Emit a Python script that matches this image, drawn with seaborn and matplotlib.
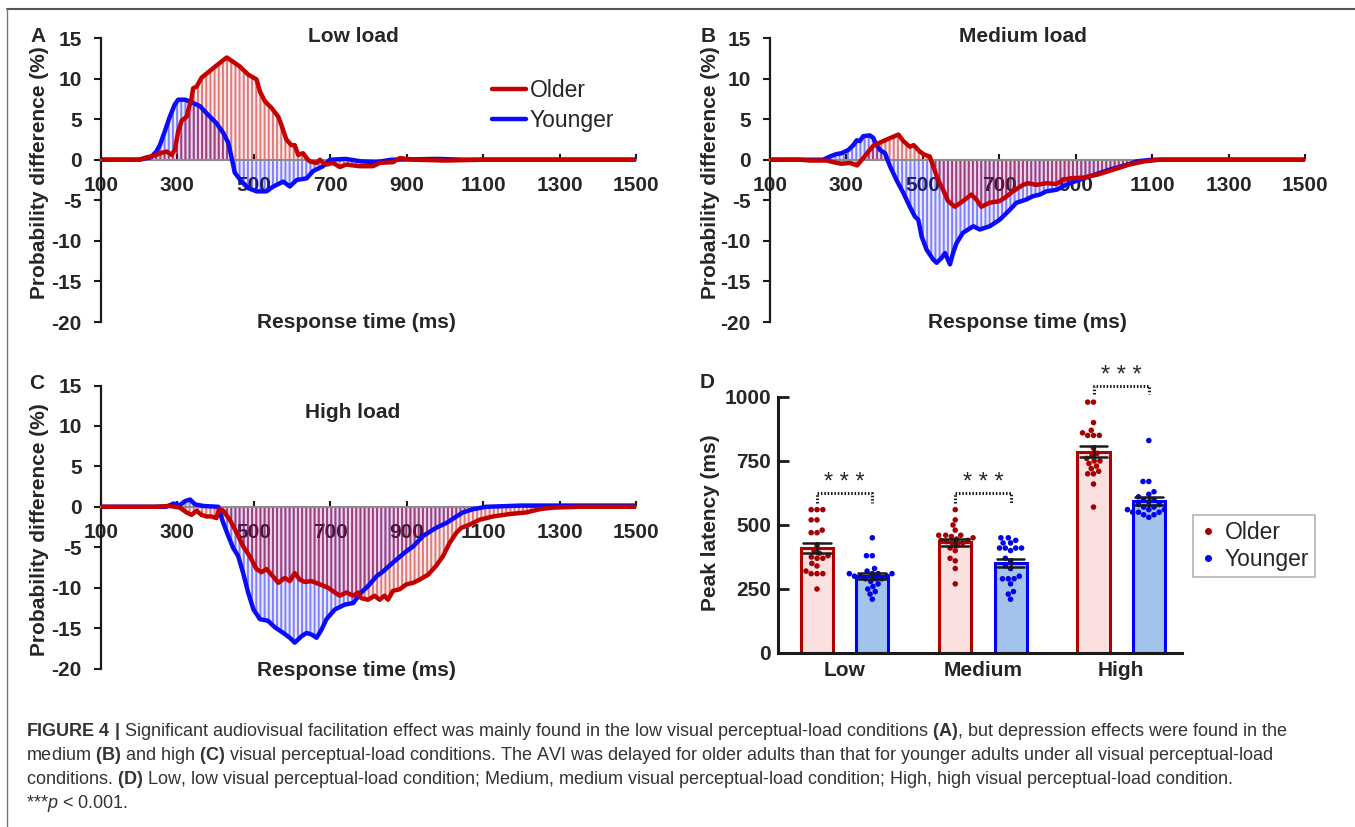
import numpy as np
import pandas as pd
import seaborn as sns
import matplotlib.pyplot as plt
import matplotlib.colors as mcolors
from matplotlib.lines import Line2D

# %%
# Digitised curves: response time (ms) vs probability difference (%)
low_old_t = [100, 200, 220, 240, 254, 272, 285, 293, 302, 311, 324, 337, 341, 350, 363, 394, 429, 463, 485, 507,
             516, 529, 546, 564, 572, 585, 598, 607, 616, 629, 638, 646, 664, 673, 681, 690, 707, 725, 742, 777,
             812, 829, 864, 882, 900, 920, 1000, 1100, 1500]
low_old_v = [0, 0, 0.3, 0.5, 0.8, 1.0, 0.6, 1.2, 3.5, 4.8, 5.3, 7.6, 8.8, 9.0, 10.1, 11.3, 12.6, 11.5, 10.5, 9.9,
             8.4, 7.2, 6.4, 5.3, 4.3, 2.5, 1.8, 1.8, 0.6, 0.8, 0.2, -0.2, -0.4, 0.0, -0.4, -0.6, -0.4, -0.9, -0.6, -0.8,
             -0.8, -0.4, -0.3, 0.2, 0.1, 0, -0.1, 0, 0]
low_young_t = [100, 200, 230, 245, 254, 267, 280, 293, 302, 320, 341, 359, 381, 402, 420, 433, 442, 450, 468, 485,
               507, 533, 551, 577, 594, 612, 638, 655, 681, 699, 740, 780, 820, 860, 980, 1050, 1500]
low_young_v = [0, 0, 0.3, 1.0, 1.8, 3.5, 5.3, 6.8, 7.4, 7.4, 7.0, 6.6, 5.5, 4.5, 3.3, 2.1, 0.2, -1.6, -2.7, -3.5,
               -3.9, -3.9, -3.3, -2.7, -3.3, -2.5, -2.3, -1.4, -0.8, 0.0, 0.1, -0.2, -0.3, 0.0, 0.1, 0, 0]

med_old_t = [100, 180, 205, 248, 266, 287, 309, 328, 344, 361, 370, 396, 436, 449, 466, 476, 492, 505, 518, 527,
             540, 553, 566, 584, 605, 627, 640, 653, 675, 701, 714, 736, 762, 775, 797, 823, 849, 867, 884, 920,
             960, 1000, 1040, 1080, 1120, 1500]
med_old_v = [0, 0, -0.1, -0.1, -0.3, -0.5, -0.4, -0.7, 0.2, 1.2, 1.7, 2.3, 3.1, 2.3, 1.6, 1.8, 1.0, 0.6, 0.4, -0.8,
             -2.5, -3.7, -5.1, -5.8, -5.1, -4.3, -4.9, -5.8, -5.3, -5.1, -4.7, -3.9, -3.1, -2.9, -3.1, -2.9, -3.0, -2.5, -2.3, -2.2,
             -1.8, -1.2, -0.6, -0.2, 0, 0]
med_young_t = [100, 239, 257, 274, 287, 305, 318, 327, 335, 344, 361, 370, 379, 388, 401, 414, 431, 449, 466, 479,
               488, 497, 510, 527, 536, 549, 558, 571, 579, 588, 605, 632, 649, 675, 701, 727, 745, 771, 788, 806,
               823, 850, 867, 884, 940, 990, 1036, 1060, 1100, 1500]
med_young_v = [0, 0, 0.4, 0.7, 0.8, 1.2, 1.8, 2.4, 2.3, 2.9, 3.0, 2.7, 1.8, 1.2, 0.8, -0.8, -2.5, -4.1, -5.8, -7.0,
               -7.4, -9.5, -11.1, -12.3, -12.7, -12.1, -11.5, -12.9, -11.5, -10.3, -9.0, -8.2, -8.6, -8.2, -7.4, -6.2, -5.3, -4.9, -4.5, -4.3,
               -3.9, -3.7, -3.3, -2.9, -2.0, -1.2, -0.6, -0.2, 0, 0]

high_old_t = [100, 240, 280, 306, 324, 337, 350, 363, 376, 389, 402, 409, 420, 437, 455, 472, 489, 507, 520, 533,
              550, 564, 581, 594, 607, 620, 633, 651, 673, 694, 712, 725, 742, 760, 773, 781, 799, 816, 829, 842,
              851, 864, 882, 899, 917, 934, 956, 977, 995, 1012, 1030, 1043, 1065, 1091, 1126, 1169, 1213, 1248, 1283, 1350,
              1500]
high_old_v = [0, 0, 0.1, -0.1, -0.7, -1.0, -0.5, -1.0, -1.2, -1.2, -1.4, -0.3, -0.5, -1.6, -3.2, -4.9, -6.1, -7.7, -8.1, -7.7,
              -8.6, -9.4, -8.8, -9.2, -8.2, -9.0, -9.3, -9.2, -9.6, -10.0, -10.6, -11.0, -10.6, -11.0, -10.6, -11.3, -11.5, -11.0, -11.5, -11.0,
              -11.5, -10.4, -10.2, -9.6, -9.4, -9.0, -8.4, -7.3, -6.1, -4.5, -3.2, -2.6, -2.2, -1.6, -1.2, -0.9, -0.7, -0.3, -0.1, 0,
              0]
high_young_t = [100, 270, 290, 306, 320, 333, 346, 368, 407, 411, 420, 433, 446, 459, 472, 485, 499, 516, 537, 555,
                577, 594, 607, 625, 638, 651, 664, 677, 690, 712, 738, 760, 781, 799, 821, 838, 864, 899, 917, 943,
                977, 1004, 1030, 1047, 1073, 1108, 1200, 1500]
high_young_v = [0, 0, 0.4, 0.2, 0.7, 0.9, 0.3, 0.1, 0, -0.7, -2.0, -3.6, -5.1, -6.1, -8.2, -10.6, -12.7, -13.9, -14.1, -14.9,
                -15.6, -16.2, -16.8, -16.0, -15.6, -15.8, -16.2, -15.2, -13.9, -12.7, -12.1, -11.9, -10.6, -9.8, -8.6, -8.0, -6.9, -5.5, -4.9, -3.6,
                -2.6, -2.0, -1.2, -0.7, -0.3, 0, 0.15, 0.15]

# %%
# Panel D: individual peak latencies (ms)
loads = ['Low', 'Medium', 'High']
groups = ['Older', 'Younger']
low_older = [560, 560, 560, 520, 520, 480, 470, 470, 420, 400, 390, 380, 375, 370, 370, 350, 340, 320, 310, 310, 310, 250]
low_younger = [450, 380, 380, 330, 320, 310, 310, 310, 310, 300, 300, 300, 290, 290, 290, 280, 270, 260, 250, 240, 230, 210]
med_older = [560, 520, 500, 480, 460, 460, 460, 455, 450, 445, 440, 440, 435, 430, 430, 420, 410, 400, 370, 360, 330, 270]
med_younger = [450, 450, 440, 430, 430, 410, 410, 410, 410, 400, 370, 360, 340, 330, 300, 290, 290, 290, 270, 240, 230, 210]
high_older = [980, 980, 900, 870, 860, 850, 850, 850, 800, 780, 770, 760, 750, 750, 740, 730, 720, 710, 700, 700, 660, 570]
high_younger = [830, 670, 670, 630, 620, 610, 600, 600, 590, 580, 580, 570, 570, 560, 560, 560, 550, 550, 550, 540, 540, 530]

caption = [
    r'$\mathbf{FIGURE\ 4\ |}$ Significant audiovisual facilitation effect was mainly found in the low visual perceptual-load conditions $\mathbf{(A)}$, but depression effects were found in the',
    r'medium $\mathbf{(B)}$ and high $\mathbf{(C)}$ visual perceptual-load conditions. The AVI was delayed for older adults than that for younger adults under all visual perceptual-load',
    r'conditions. $\mathbf{(D)}$ Low, low visual perceptual-load condition; Medium, medium visual perceptual-load condition; High, high visual perceptual-load condition.',
    r'***$\mathit{p}$ < 0.001.',
]

# %%
sns.set_theme(style='white')
plt.rcParams['font.family'] = ['Liberation Sans', 'DejaVu Sans']
plt.rcParams['axes.unicode_minus'] = False
plt.rcParams['hatch.linewidth'] = 1.4
plt.rcParams['mathtext.fontset'] = 'custom'
plt.rcParams['mathtext.rm'] = 'Liberation Sans'
plt.rcParams['mathtext.bf'] = 'Liberation Sans:bold'
plt.rcParams['mathtext.it'] = 'Liberation Sans:italic'

W, H = 1355, 827
fig = plt.figure(figsize=(W / 100, H / 100), dpi=100)


def box(x0, x1, ytop, ybot):
    return [x0 / W, 1 - ybot / H, (x1 - x0) / W, (ybot - ytop) / H]


def ftext(x, y, s, **kw):
    fig.text(x / W, 1 - y / H, s, **kw)


red, blue = '#c40000', '#0a0aff'
FS = 15


def curve_panel(rect, old_t, old_v, young_t, young_v):
    ax = fig.add_axes(rect)
    for t, v, c in [(young_t, young_v, blue), (old_t, old_v, red)]:
        rgb = mcolors.to_rgb(c)
        ax.fill_between(t, 0, v, facecolor=rgb + (0.08,), edgecolor=rgb + (0.48,),
                        hatch='||||', linewidth=0, zorder=1)
    sns.lineplot(x=young_t, y=young_v, color=blue, lw=3.2, ax=ax, estimator=None, sort=False, zorder=3)
    sns.lineplot(x=old_t, y=old_v, color=red, lw=3.2, ax=ax, estimator=None, sort=False, zorder=3)
    ax.set_xlim(100, 1500)
    ax.set_ylim(-20, 15)
    ax.set_xticks(range(100, 1501, 200))
    ax.set_yticks(range(-20, 16, 5))
    ax.set(xlabel='', ylabel='')
    ax.spines['top'].set_visible(False)
    ax.spines['right'].set_visible(False)
    ax.spines['bottom'].set_position(('data', 0))
    ax.spines['bottom'].set_color('#8c8c8c')
    ax.spines['bottom'].set_linewidth(1.5)
    ax.spines['left'].set_color('k')
    ax.spines['left'].set_linewidth(1.6)
    ax.tick_params(axis='x', direction='in', length=4, width=1.5, color='k', pad=12, labelsize=FS, bottom=True)
    ax.tick_params(axis='y', direction='out', length=5, width=1.5, color='k', pad=9, labelsize=FS, left=True)
    for lab in ax.get_xticklabels() + ax.get_yticklabels():
        lab.set_fontweight('bold')
    ax.patch.set_alpha(0)
    return ax


axa = curve_panel(box(101, 636, 38, 322), low_old_t, low_old_v, low_young_t, low_young_v)
axb = curve_panel(box(770, 1305, 38, 322), med_old_t, med_old_v, med_young_t, med_young_v)
axc = curve_panel(box(101, 636, 385.5, 668.5), high_old_t, high_old_v, high_young_t, high_young_v)

handles = [Line2D([], [], color=red, lw=3.2), Line2D([], [], color=blue, lw=3.2)]
axa.legend(handles, groups, loc='center left', bbox_to_anchor=(0.731, 0.762), frameon=False,
           fontsize=16.5, handlelength=1.5, handletextpad=0.15, labelspacing=0.27,
           borderpad=0, borderaxespad=0)

bold = dict(fontsize=FS, fontweight='bold', ha='center', va='center')
for x, y, s in [(38, 36, 'A'), (708, 36, 'B'), (37, 384, 'C'), (707, 382, 'D')]:
    ftext(x, y, s, **bold)
for x, y, s in [(353, 36, 'Low load'), (1023, 36, 'Medium load'), (353, 412, 'High load')]:
    ftext(x, y, s, **bold)
for x, y in [(356, 322), (1027, 322), (356, 671)]:
    ftext(x, y, 'Response time (ms)', **bold)
for x, y in [(40, 173), (711, 173), (40, 530)]:
    ftext(x, y, 'Probability difference (%)', rotation=90, **bold)

# %%
# Panel D: bars (mean +/- SEM) with individual points
rows = []
for load, o, yg in zip(loads, [low_older, med_older, high_older], [low_younger, med_younger, high_younger]):
    rows += [(load, 'Older', v) for v in o]
    rows += [(load, 'Younger', v) for v in yg]
df = pd.DataFrame(rows, columns=['load', 'group', 'latency'])

axd = fig.add_axes(box(778, 1182, 397, 653))
sns.barplot(data=df, x='load', y='latency', hue='group', order=loads, hue_order=groups,
            palette={'Older': '#ffdcdc', 'Younger': '#94c2f8'}, errorbar='se', capsize=0.4,
            err_kws={'color': 'k', 'linewidth': 1.8}, width=0.8, gap=0.42, legend=False, ax=axd)
for cont, ec in zip(axd.containers, ['#b00000', '#0000ff']):
    for bar in cont:
        bar.set_edgecolor(ec)
        bar.set_linewidth(2.2)
sns.swarmplot(data=df, x='load', y='latency', hue='group', order=loads, hue_order=groups,
              palette={'Older': '#a50000', 'Younger': '#0000ee'}, dodge=True, size=4.0,
              legend=False, ax=axd)
for ln in axd.lines:
    ln.set_zorder(4)

axd.set_xlim(-0.482, 2.44)
axd.set_ylim(0, 1000)
axd.set_yticks([0, 250, 500, 750, 1000])
axd.set(xlabel='', ylabel='')
axd.spines['top'].set_visible(False)
axd.spines['right'].set_visible(False)
for s in ['left', 'bottom']:
    axd.spines[s].set_color('k')
    axd.spines[s].set_linewidth(2.2)
axd.tick_params(axis='y', direction='in', length=8, width=2, color='k', pad=5, labelsize=FS, left=True)
axd.tick_params(axis='x', length=0, pad=6, labelsize=FS)
for lab in axd.get_xticklabels() + axd.get_yticklabels():
    lab.set_fontweight('bold')
axd.patch.set_alpha(0)
ftext(710, 523, 'Peak latency (ms)', rotation=90, **bold)

# significance brackets
sig_top = [624, 624, 1044]
sig_base = [587, 587, 1010]
for i in range(3):
    axd.plot([i - 0.2, i - 0.2, i + 0.2, i + 0.2], [sig_base[i], sig_top[i], sig_top[i], sig_base[i]],
             color='k', lw=2.2, ls=(0, (0.5, 0.6)), clip_on=False, zorder=5)
    axd.text(i, sig_top[i] - 4, '* * *', ha='center', va='bottom', fontsize=17, clip_on=False)

dots = [Line2D([], [], ls='', marker='o', ms=4, color=c) for c in ['#a50000', '#0000ee']]
leg = axd.legend(dots, groups, loc='upper left', bbox_to_anchor=(1.027, 0.539), borderaxespad=0,
                 frameon=True, fancybox=False, edgecolor='#a0a0a0', fontsize=16.5, handlelength=0.8,
                 handletextpad=0.35, borderpad=0.25, labelspacing=0.2)
leg.get_frame().set_linewidth(1.2)

# %%
# caption and frame
for y, line in zip([731, 755, 779, 803], caption):
    ftext(26, y, line, fontsize=13, color='#333333', ha='left', va='center')

fig.add_artist(Line2D([7.5 / W, 1], [1 - 8.5 / H, 1 - 8.5 / H], transform=fig.transFigure, color='#555555', lw=1.5))
fig.add_artist(Line2D([7.5 / W, 7.5 / W], [0, 1 - 8.5 / H], transform=fig.transFigure, color='#777777', lw=1))

fig.savefig('out.png', dpi=100)
